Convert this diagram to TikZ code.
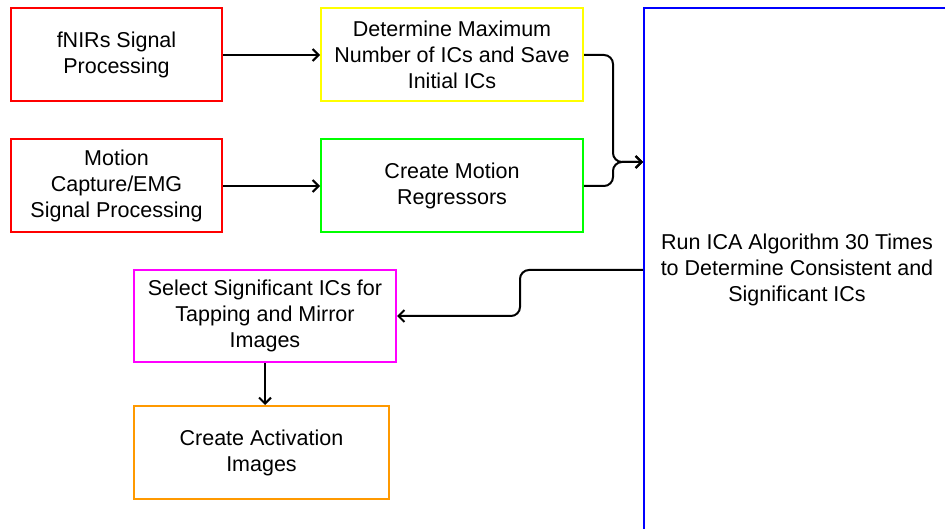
\documentclass[tikz,border=0pt]{standalone}
\usepackage{fontspec}
\setmainfont{Liberation Sans}
\usetikzlibrary{arrows.meta}
\definecolor{icared}{HTML}{FF0000}
\definecolor{icayellow}{HTML}{FFFF00}
\definecolor{icagreen}{HTML}{00FF00}
\definecolor{icablue}{HTML}{0000FF}
\definecolor{icamagenta}{HTML}{FF00FF}
\definecolor{icaorange}{HTML}{FF9900}

\begin{document}
\begin{tikzpicture}[x=1pt,y=-1pt,
    stepbox/.style={draw,line width=2pt,align=center,inner sep=0,text=black,
        font=\fontsize{21.5}{26}\selectfont},
    flow/.style={line width=2pt,-{Straight Barb[length=6pt,width=12pt]},rounded corners=9pt}]
    \pgfmathsetmacro{\leftwidth}{211}
    \pgfmathsetmacro{\midwidth}{262}
    \pgfmathsetmacro{\boxheight}{93}
    \clip (0,0) rectangle (945,529);
    % input boxes
    \node[stepbox,draw=icared,minimum width=\leftwidth,minimum height=\boxheight] (fnirs) at (116.5,55) {fNIRs Signal\\Processing};
    \node[stepbox,draw=icared,minimum width=\leftwidth,minimum height=\boxheight] (motion) at (116.5,186) {Motion\\Capture/EMG\\Signal Processing};
    \node[stepbox,draw=icayellow,minimum width=\midwidth,minimum height=\boxheight] (maxics) at (452,55) {Determine Maximum\\Number of ICs and Save\\Initial ICs};
    \node[stepbox,draw=icagreen,minimum width=\midwidth,minimum height=\boxheight] (regress) at (452,186) {Create Motion\\Regressors};
    % big box, runs off the page
    \node[stepbox,draw=icablue,minimum width=306,minimum height=524] (runica) at (797,270) {Run ICA Algorithm 30 Times\\to Determine Consistent and\\Significant ICs};
    \node[stepbox,draw=icamagenta,minimum width=\midwidth,minimum height=92] (select) at (265,316) {Select Significant ICs for\\Tapping and Mirror\\Images};
    \node[stepbox,draw=icaorange,minimum width=255,minimum height=\boxheight] (activ) at (261.5,452.5) {Create Activation\\Images};
    \coordinate (merge) at (613,162);
    \coordinate (split) at (520,293);
    \draw[flow] (fnirs.east) -- (maxics.west);
    \draw[flow] (motion.east) -- (regress.west);
    \draw[flow] (maxics.east) -| (merge) -- (runica.west |- merge);
    \draw[flow] (regress.east) -| (merge) -- (runica.west |- merge);
    \draw[flow] (runica.west) -| (split) |- (select.east);
    \draw[flow] (select.south) -- (select.south |- activ.north);
\end{tikzpicture}
\end{document}
